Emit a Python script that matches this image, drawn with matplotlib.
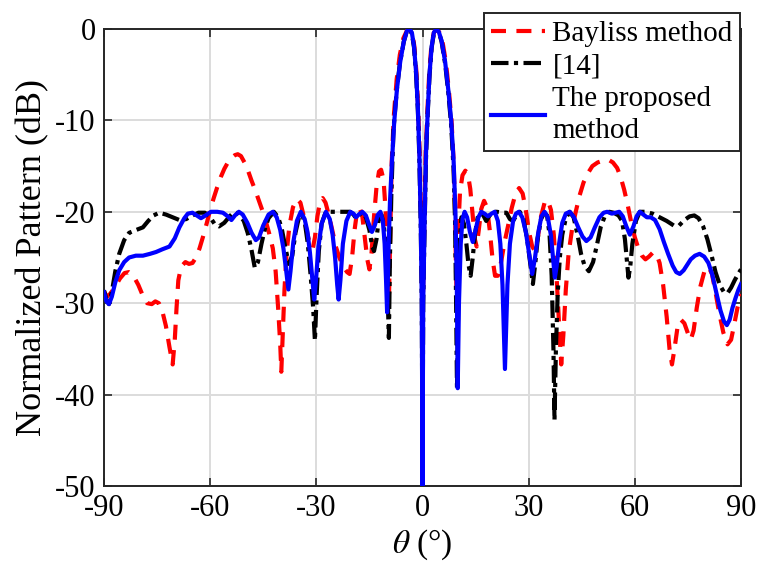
import matplotlib
matplotlib.use("Agg")
import matplotlib.pyplot as plt

# --------------------------------------------------------------------------- #
# data (theta in degrees, pattern in dB)
# --------------------------------------------------------------------------- #
bayliss_theta = [
    -90, -89.2, -88.3, -87.0, -85.5, -84.2, -83.0, -81.7, -80.3, -79.0, -77.8, -76.5,
    -75.5, -74.5, -73.5, -72.5, -71.5, -70.6, -70.0, -69.5, -69.0, -68.2, -67.0, -66.0,
    -65.0, -64.0, -63.0, -62.0, -61.0, -60.0, -59.0, -58.0, -57.0, -56.0, -55.0, -54.0,
    -53.0, -52.2, -51.3, -50.3, -49.3, -48.3, -47.3, -46.3, -45.3, -44.3, -43.3, -42.3,
    -41.5, -40.8, -40.2, -39.9, -39.5, -39.0, -38.4, -37.6, -36.6, -35.5, -34.5, -33.6,
    -32.6, -31.6, -31.0, -30.4, -29.7, -28.9, -28.2, -27.4, -26.5, -25.5, -24.5, -23.5,
    -22.4, -21.3, -20.6, -19.9, -19.2, -18.5, -17.8, -17.0, -16.3, -15.6, -15.0, -14.4,
    -13.7, -13.0, -12.3, -11.7, -11.0, -10.4, -9.9, -9.5, -9.1, -8.7, -8.1, -7.3,
    -6.4, -5.4, -4.3, -3.6, -2.9, -2.3, -1.7, -1.2, -0.8, -0.4, -0.1, 0.0,
    0.1, 0.5, 0.9, 1.4, 1.9, 2.5, 3.2, 4.0, 4.8, 5.7, 6.6, 7.4,
    8.2, 8.8, 9.2, 9.5, 9.7, 10.1, 10.6, 11.3, 12.1, 12.8, 13.5, 14.2,
    14.8, 15.3, 15.9, 16.6, 17.4, 18.2, 19.0, 19.8, 20.5, 21.3, 22.2, 23.2,
    24.2, 25.2, 26.3, 27.3, 28.3, 29.2, 30.1, 31.0, 31.8, 32.6, 33.5, 34.5,
    35.4, 36.3, 37.1, 37.8, 38.5, 39.2, 39.8, 40.5, 41.3, 42.3, 43.3, 44.4,
    45.5, 46.7, 48.0, 49.5, 51.0, 52.5, 53.8, 55.0, 56.0, 57.0, 58.0, 59.0,
    60.0, 61.0, 62.0, 63.0, 64.0, 65.0, 66.0, 67.0, 68.0, 69.0, 69.8, 70.5,
    71.2, 72.0, 73.0, 74.0, 75.0, 75.8, 76.6, 77.5, 78.5, 79.6, 80.8, 81.8,
    82.8, 83.8, 85.0, 86.2, 87.2, 88.0, 89.0, 90.0,
]
bayliss_db = [
    -28.7, -29.3, -29.0, -28.3, -27.3, -26.7, -26.6, -27.0, -28.0, -29.2, -30.0, -30.1,
    -29.8, -30.0, -30.9, -32.5, -34.8, -36.7, -34.0, -30.5, -27.5, -26.0, -25.5, -25.7,
    -25.6, -25.0, -24.0, -22.7, -21.3, -19.8, -18.5, -17.3, -16.2, -15.3, -14.6, -14.1,
    -13.8, -13.7, -13.9, -14.6, -15.5, -16.6, -17.6, -18.7, -19.8, -21.0, -22.4, -24.0,
    -26.5, -30.5, -34.5, -37.5, -33.5, -28.5, -24.5, -21.5, -19.5, -18.6, -19.0, -20.4,
    -22.3, -23.8, -24.0, -22.8, -20.5, -18.8, -18.5, -19.0, -20.3, -22.0, -23.8, -25.0,
    -26.0, -26.6, -26.8, -25.0, -22.0, -20.0, -19.5, -20.5, -22.8, -25.2, -26.3, -24.5,
    -20.5, -17.3, -15.6, -15.4, -16.5, -20.0, -26.0, -30.0, -22.0, -14.5, -9.5, -5.5,
    -2.8, -1.0, -0.1, 0.0, -0.4, -1.9, -4.8, -8.8, -13.5, -21.0, -30.0, -40.0,
    -30.0, -21.0, -13.5, -8.8, -4.8, -1.9, -0.4, 0.0, -0.4, -1.5, -3.6, -6.5,
    -10.0, -14.5, -20.0, -27.0, -30.0, -22.0, -17.8, -16.0, -15.5, -15.8, -17.5, -20.5,
    -23.0, -23.8, -22.0, -19.7, -18.8, -19.5, -22.0, -25.2, -27.0, -27.0, -25.5, -23.3,
    -21.5, -19.6, -18.0, -17.4, -18.0, -19.8, -22.2, -23.8, -24.3, -22.8, -20.5, -19.0,
    -18.7, -19.8, -22.5, -26.5, -31.5, -36.7, -33.5, -28.5, -24.5, -21.8, -20.0, -18.2,
    -16.8, -15.8, -15.0, -14.6, -14.4, -14.3, -14.6, -15.2, -16.2, -17.6, -19.3, -21.2,
    -22.8, -24.0, -24.8, -25.2, -24.9, -24.5, -24.5, -25.6, -28.0, -31.5, -35.0, -36.7,
    -35.0, -32.8, -31.8, -32.2, -33.3, -34.0, -33.0, -30.5, -28.2, -26.6, -26.0, -26.8,
    -28.8, -31.0, -33.2, -34.5, -34.0, -32.5, -30.5, -29.0,
]

ref14_theta = [
    -90, -89.3, -88.6, -87.8, -86.8, -85.7, -84.3, -82.9, -81.0, -79.0, -77.5, -76.0,
    -74.4, -72.5, -70.6, -68.7, -66.8, -65.0, -63.3, -61.5, -60.0, -58.8, -57.5, -56.0,
    -54.5, -53.2, -51.8, -50.5, -49.4, -48.4, -47.4, -46.5, -45.5, -44.5, -43.5, -42.0,
    -40.8, -39.8, -38.8, -37.8, -36.8, -35.9, -34.9, -34.0, -33.2, -32.4, -31.6, -30.9,
    -30.4, -29.9, -29.3, -28.5, -27.5, -26.0, -24.0, -22.0, -20.5, -19.5, -18.8, -18.0,
    -17.0, -16.0, -15.0, -14.2, -13.7, -13.0, -12.3, -11.6, -10.9, -10.3, -9.9, -9.5,
    -9.2, -8.8, -8.2, -7.3, -6.4, -5.3, -4.4, -3.8, -3.0, -2.4, -1.8, -1.3,
    -0.9, -0.5, -0.2, 0.0, 0.2, 0.6, 1.0, 1.5, 2.0, 2.6, 3.2, 3.9,
    4.6, 5.4, 6.4, 7.3, 8.1, 8.8, 9.2, 9.5, 9.75, 10.1, 10.5, 11.0,
    11.7, 12.4, 13.0, 13.6, 14.2, 14.8, 15.6, 16.4, 17.2, 18.0, 18.8, 19.8,
    21.0, 22.5, 23.7, 24.7, 25.6, 26.5, 27.5, 28.5, 29.5, 30.4, 31.2, 31.9,
    32.6, 33.5, 34.4, 35.2, 35.9, 36.5, 37.0, 37.3, 37.7, 38.2, 38.8, 39.5,
    40.5, 41.6, 42.7, 43.8, 44.8, 45.8, 47.0, 48.2, 49.3, 50.4, 51.5, 52.8,
    54.0, 55.4, 56.4, 57.2, 57.8, 58.2, 58.7, 59.3, 60.3, 61.4, 63.0, 65.0,
    67.0, 69.0, 71.0, 72.5, 74.0, 75.5, 76.8, 78.0, 79.3, 80.5, 81.7, 82.8,
    84.0, 85.2, 86.2, 87.2, 88.2, 89.2, 90.0,
]
ref14_db = [
    -28.6, -29.6, -30.1, -28.8, -26.5, -24.6, -23.1, -22.3, -22.0, -21.7, -21.0, -20.4,
    -20.1, -20.3, -20.6, -20.9, -20.8, -20.4, -20.1, -20.1, -20.6, -21.3, -21.6, -21.2,
    -20.5, -20.0, -20.3, -21.0, -22.3, -24.0, -26.1, -25.5, -23.5, -21.8, -20.7, -20.0,
    -20.6, -21.8, -23.8, -25.7, -24.8, -22.3, -20.6, -20.3, -21.3, -23.5, -27.0, -30.5,
    -34.1, -29.0, -24.3, -21.3, -20.2, -20.0, -20.0, -20.0, -20.0, -20.3, -20.7, -20.4,
    -20.0, -20.6, -22.0, -23.8, -24.3, -23.0, -20.5, -20.3, -21.5, -24.5, -28.5, -33.8,
    -25.0, -18.0, -11.0, -6.8, -3.8, -1.4, -0.2, 0.0, -0.5, -2.0, -5.0, -9.0,
    -14.0, -21.5, -30.0, -48.0, -30.0, -21.5, -14.0, -9.0, -5.0, -2.0, -0.5, 0.0,
    -0.3, -1.4, -3.8, -7.0, -10.5, -15.5, -21.0, -30.0, -39.4, -30.0, -23.5, -20.6,
    -21.3, -23.5, -25.8, -27.0, -25.0, -22.5, -20.6, -20.1, -20.4, -21.0, -20.5, -20.0,
    -20.0, -20.1, -20.1, -20.8, -21.0, -20.4, -20.0, -20.8, -22.8, -25.5, -27.9, -25.5,
    -22.8, -20.8, -20.1, -20.4, -22.5, -27.0, -35.0, -42.8, -35.0, -29.0, -25.0, -22.5,
    -20.7, -20.0, -20.6, -22.5, -24.6, -25.9, -26.5, -25.5, -23.6, -21.6, -20.5, -20.0,
    -20.1, -20.4, -21.0, -23.0, -25.5, -27.2, -26.0, -23.5, -21.0, -20.0, -20.0, -20.2,
    -20.6, -21.0, -21.5, -21.5, -20.9, -20.5, -20.4, -20.7, -21.6, -23.0, -24.8, -26.6,
    -28.0, -28.8, -28.9, -28.3, -27.5, -26.8, -26.3,
]

proposed_theta = [
    -90, -89.3, -88.6, -87.8, -86.8, -85.7, -84.3, -82.9, -81.0, -79.0, -77.0, -75.3,
    -73.5, -71.5, -70.0, -68.7, -67.3, -66.3, -65.0, -63.8, -62.6, -61.3, -59.8, -58.0,
    -56.4, -55.0, -54.0, -53.0, -51.9, -50.8, -49.5, -48.3, -47.1, -46.2, -45.0, -43.5,
    -42.3, -41.2, -40.2, -39.3, -38.5, -37.9, -37.3, -36.5, -35.5, -34.4, -33.3, -32.5,
    -31.8, -31.1, -30.6, -30.1, -29.4, -28.5, -27.3, -26.2, -25.4, -24.7, -24.1, -23.7,
    -23.2, -22.5, -21.5, -20.4, -19.5, -18.8, -18.0, -17.0, -16.0, -15.2, -14.3, -13.5,
    -12.6, -11.9, -11.2, -10.7, -10.3, -10.0, -9.6, -9.2, -8.7, -8.0, -7.2, -6.3,
    -5.3, -4.4, -3.7, -3.0, -2.4, -1.8, -1.3, -0.9, -0.5, -0.2, 0.0, 0.2,
    0.6, 1.0, 1.5, 2.0, 2.6, 3.2, 3.9, 4.6, 5.4, 6.4, 7.3, 8.1,
    8.8, 9.3, 9.7, 9.95, 10.3, 10.8, 11.3, 11.9, 12.6, 13.4, 14.2, 15.0,
    15.8, 16.6, 17.5, 18.5, 19.5, 20.4, 21.3, 22.0, 22.6, 23.3, 24.0, 24.7,
    25.6, 26.4, 27.2, 28.2, 29.2, 30.2, 31.0, 31.8, 32.7, 33.6, 34.5, 35.4,
    36.3, 37.0, 37.4, 37.9, 38.6, 39.5, 40.5, 41.6, 42.8, 44.0, 45.2, 46.3,
    47.5, 48.7, 50.0, 51.2, 52.2, 53.5, 54.5, 55.6, 56.6, 57.6, 58.6, 59.6,
    60.5, 61.4, 62.4, 63.4, 64.5, 65.7, 67.0, 68.2, 69.4, 70.7, 71.7, 72.7,
    73.8, 74.8, 75.8, 77.0, 78.3, 79.6, 80.8, 81.9, 83.0, 84.2, 85.2, 86.0,
    86.8, 87.6, 88.4, 89.2, 90.0,
]
proposed_db = [
    -28.8, -29.8, -30.1, -29.3, -27.7, -26.4, -25.5, -25.0, -24.8, -24.8, -24.6, -24.4,
    -24.1, -23.8, -22.9, -21.7, -20.7, -20.2, -20.1, -20.4, -20.7, -20.4, -20.0, -20.0,
    -20.1, -20.5, -20.9, -20.4, -20.0, -20.3, -21.2, -22.3, -23.1, -22.8, -21.5, -20.3,
    -20.0, -20.6, -22.0, -24.0, -26.5, -28.5, -26.5, -23.3, -21.0, -20.0, -20.8, -22.2,
    -24.5, -27.5, -29.6, -27.5, -23.8, -21.3, -20.0, -20.8, -22.5, -25.0, -28.0, -29.6,
    -27.5, -23.5, -21.0, -20.0, -20.2, -20.6, -20.3, -20.0, -20.4, -21.3, -22.2, -21.5,
    -20.3, -20.0, -21.0, -23.5, -27.5, -31.0, -24.0, -19.0, -15.0, -10.2, -6.5, -3.6,
    -1.4, -0.2, 0.0, -0.4, -1.9, -4.8, -8.8, -13.5, -21.0, -30.0, -50.0, -30.0,
    -21.0, -13.5, -8.8, -4.8, -1.9, -0.4, 0.0, -0.3, -1.3, -3.6, -6.7, -10.0,
    -14.5, -20.0, -28.0, -39.3, -30.0, -23.5, -20.8, -20.0, -20.6, -22.2, -23.3, -22.0,
    -20.6, -20.0, -20.2, -20.5, -20.2, -20.0, -21.0, -23.5, -28.0, -37.2, -28.0, -23.5,
    -21.0, -20.2, -20.0, -20.6, -22.2, -24.8, -26.8, -25.0, -22.3, -20.5, -20.0, -20.6,
    -22.6, -25.5, -27.2, -26.0, -23.5, -21.2, -20.2, -20.0, -20.6, -21.7, -22.7, -23.2,
    -22.8, -21.7, -20.6, -20.1, -20.0, -20.2, -20.1, -20.0, -20.5, -21.6, -22.5, -21.6,
    -20.5, -20.0, -20.3, -20.6, -20.6, -20.9, -21.9, -23.3, -24.6, -25.9, -26.6, -26.8,
    -26.4, -25.8, -25.2, -24.8, -24.6, -24.9, -25.6, -26.9, -28.8, -30.8, -32.0, -32.4,
    -31.8, -30.5, -29.5, -28.6, -27.9,
]

labels = ["Bayliss method", "[14]", "The proposed\nmethod"]
x_ticks = [-90, -60, -30, 0, 30, 60, 90]
y_ticks = [-50, -40, -30, -20, -10, 0]

# --------------------------------------------------------------------------- #
# figure
# --------------------------------------------------------------------------- #
plt.rcParams["font.family"] = ["Liberation Serif", "DejaVu Serif"]
plt.rcParams["mathtext.fontset"] = "stix"
plt.rcParams["axes.unicode_minus"] = False

W, H = 758, 571
fig = plt.figure(figsize=(W / 100, H / 100), dpi=100)
ax = fig.add_axes([104 / W, 1 - 486 / H, (741 - 104) / W, (486 - 29) / H])

lw = 3.0
ax.plot(bayliss_theta, bayliss_db, color="#ff0000", lw=lw, dashes=(3.6, 2.5),
        label=labels[0], zorder=3)
ax.plot(ref14_theta, ref14_db, color="black", lw=lw, dashes=(4.2, 1.3, 1.0, 1.3),
        label=labels[1], zorder=4)
ax.plot(proposed_theta, proposed_db, color="#0000ff", lw=lw, label=labels[2], zorder=5)

ax.set_xlim(-90, 90)
ax.set_ylim(-50, 0)
ax.set_xticks(x_ticks)
ax.set_yticks(y_ticks)
ax.tick_params(direction="in", length=6, width=1.2, labelsize=22, color="#262626",
               top=True, right=True, pad=6)
for s in ax.spines.values():
    s.set_color("#262626")
    s.set_linewidth(1.4)
ax.grid(True, color="#dcdcdc", lw=1.4)
ax.set_axisbelow(True)

ax.set_xlabel(r"$\theta$ (°)", fontsize=24, labelpad=3)
ax.set_ylabel("Normalized Pattern (dB)", fontsize=26, labelpad=4)

leg = ax.legend(loc="upper right", bbox_to_anchor=(740 / W, 1 - 13 / H),
                bbox_transform=fig.transFigure, borderaxespad=0, fontsize=21,
                handlelength=1.85, handletextpad=0.25, borderpad=0.25,
                labelspacing=0.22, fancybox=False, framealpha=1, edgecolor="#262626")
leg.get_frame().set_linewidth(1.4)
leg.get_texts()[2].set_linespacing(1.3)
leg.set_zorder(10)

fig.savefig("out.png", dpi=100)
